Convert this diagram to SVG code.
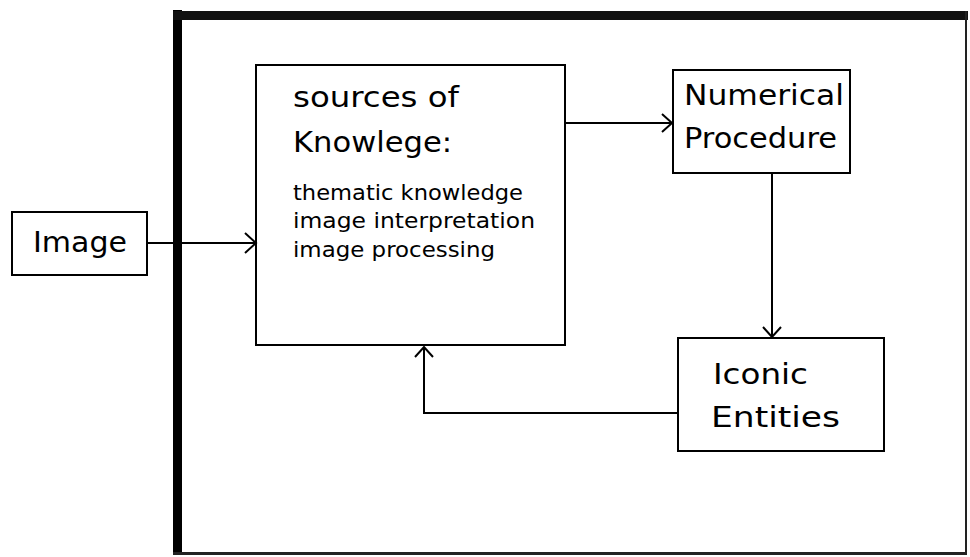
<svg xmlns="http://www.w3.org/2000/svg" width="970" height="557" viewBox="0 0 970 557">
  <style>
    .box { fill: #ffffff; stroke: #000000; stroke-width: 2; }
    .big { font-family: "DejaVu Sans", "Liberation Sans", sans-serif; font-size: 28px; fill: #000000; }
    .small { font-family: "DejaVu Sans", "Liberation Sans", sans-serif; font-size: 21px; fill: #000000; }
    .wire { fill: none; stroke: #000000; stroke-width: 2; }
    .head { fill: none; stroke: #000000; stroke-width: 2; stroke-linejoin: miter; }
  </style>

  <rect x="0" y="0" width="970" height="557" fill="#ffffff"/>

  <!-- outer frame: heavy left and top, thin right and bottom -->
  <g id="frame">
    <rect x="173" y="10" width="9" height="545" fill="#000000"/>
    <rect x="173" y="11" width="795" height="9" fill="#111111"/>
    <rect x="965" y="11" width="2" height="544" fill="#222222"/>
    <rect x="173" y="552" width="794" height="3" fill="#222222"/>
  </g>

  <g id="image">
    <rect class="box" x="12" y="212" width="135" height="63"/>
    <text class="big" x="33" y="252" textLength="94" lengthAdjust="spacingAndGlyphs">Image</text>
  </g>

  <g id="sources">
    <rect class="box" x="256" y="65" width="309" height="280"/>
    <text class="big" x="293" y="107" textLength="166" lengthAdjust="spacingAndGlyphs">sources of</text>
    <text class="big" x="293" y="152" textLength="159" lengthAdjust="spacingAndGlyphs">Knowlege:</text>
    <text class="small" x="293" y="200" textLength="230" lengthAdjust="spacingAndGlyphs">thematic knowledge</text>
    <text class="small" x="293" y="228" textLength="242" lengthAdjust="spacingAndGlyphs">image interpretation</text>
    <text class="small" x="293" y="257" textLength="202" lengthAdjust="spacingAndGlyphs">image processing</text>
  </g>

  <g id="numerical">
    <rect class="box" x="673" y="70" width="177" height="103"/>
    <text class="big" x="684" y="105" textLength="160" lengthAdjust="spacingAndGlyphs">Numerical</text>
    <text class="big" x="684" y="148" textLength="153" lengthAdjust="spacingAndGlyphs">Procedure</text>
  </g>

  <g id="iconic">
    <rect class="box" x="678" y="338" width="206" height="113"/>
    <text class="big" x="713" y="384" textLength="95" lengthAdjust="spacingAndGlyphs">Iconic</text>
    <text class="big" x="711" y="427" textLength="129" lengthAdjust="spacingAndGlyphs">Entities</text>
  </g>

  <g id="connectors">
    <!-- Image to sources -->
    <line class="wire" x1="147" y1="243" x2="256" y2="243"/>
    <polyline class="head" points="245,233 256,243 245,253"/>
    <!-- sources to Numerical Procedure -->
    <line class="wire" x1="565" y1="123" x2="672" y2="123"/>
    <polyline class="head" points="662,114 672,123 662,132"/>
    <!-- Numerical Procedure to Iconic Entities -->
    <line class="wire" x1="772" y1="173" x2="772" y2="337"/>
    <polyline class="head" points="763,327 772,337 781,327"/>
    <!-- Iconic Entities back to sources -->
    <polyline class="wire" points="678,413 424,413 424,347"/>
    <polyline class="head" points="415,357 424,347 433,357"/>
  </g>
</svg>
